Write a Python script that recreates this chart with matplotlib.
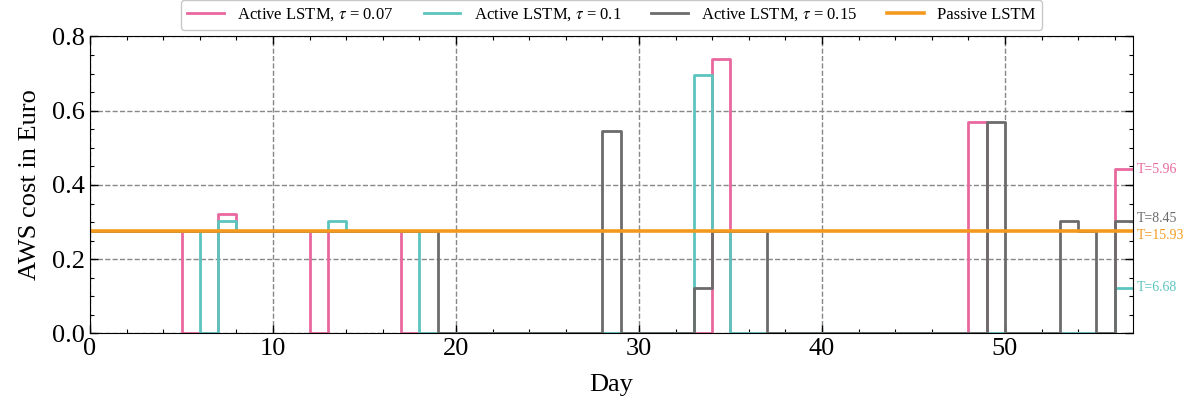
import numpy as np
import matplotlib.pyplot as plt
from matplotlib.ticker import MultipleLocator

# daily AWS cost (Euro) per day 0..56, last value repeated so the final step is drawn
days = np.arange(0, 58)

active_007 = [0.275, 0.275, 0.275, 0.275, 0.275, 0.0, 0.0, 0.322, 0.275, 0.275,
              0.275, 0.275, 0.0, 0.275, 0.275, 0.275, 0.275, 0.0, 0.0, 0.0,
              0.0, 0.0, 0.0, 0.0, 0.0, 0.0, 0.0, 0.0, 0.0, 0.0,
              0.0, 0.0, 0.0, 0.0, 0.74, 0.0, 0.0, 0.0, 0.0, 0.0,
              0.0, 0.0, 0.0, 0.0, 0.0, 0.0, 0.0, 0.0, 0.57, 0.0,
              0.0, 0.0, 0.0, 0.0, 0.0, 0.0, 0.442, 0.442]
active_01 = [0.275, 0.275, 0.275, 0.275, 0.275, 0.275, 0.0, 0.302, 0.275, 0.275,
             0.275, 0.275, 0.275, 0.302, 0.275, 0.275, 0.275, 0.275, 0.0, 0.0,
             0.0, 0.0, 0.0, 0.0, 0.0, 0.0, 0.0, 0.0, 0.0, 0.0,
             0.0, 0.0, 0.0, 0.697, 0.275, 0.0, 0.0, 0.0, 0.0, 0.0,
             0.0, 0.0, 0.0, 0.0, 0.0, 0.0, 0.0, 0.0, 0.0, 0.0,
             0.0, 0.0, 0.0, 0.0, 0.0, 0.0, 0.123, 0.123]
active_015 = [0.275, 0.275, 0.275, 0.275, 0.275, 0.275, 0.275, 0.275, 0.275, 0.275,
              0.275, 0.275, 0.275, 0.275, 0.275, 0.275, 0.275, 0.275, 0.275, 0.0,
              0.0, 0.0, 0.0, 0.0, 0.0, 0.0, 0.0, 0.0, 0.546, 0.0,
              0.0, 0.0, 0.0, 0.123, 0.275, 0.275, 0.275, 0.0, 0.0, 0.0,
              0.0, 0.0, 0.0, 0.0, 0.0, 0.0, 0.0, 0.0, 0.0, 0.57,
              0.0, 0.0, 0.0, 0.303, 0.275, 0.0, 0.303, 0.303]
passive = [0.275] * 58

labels = [r"Active LSTM, $\tau$ = 0.07", r"Active LSTM, $\tau$ = 0.1",
          r"Active LSTM, $\tau$ = 0.15", "Passive LSTM"]
totals = ["T=5.96", "T=6.68", "T=8.45", "T=15.93"]
colors = ["#E8689E", "#5CC4BE", "#6B6B6B", "#F39A1E"]

plt.rcParams['font.family'] = ['Liberation Serif', 'DejaVu Serif']
plt.rcParams['mathtext.fontset'] = 'stix'

fig = plt.figure(figsize=(12.02, 4.09), dpi=100)
ax = fig.add_axes([0.0749, 0.1846, 0.8677, 0.7262])

series = [active_007, active_01, active_015, passive]
for s, lab, c in zip(series, labels, colors):
    lw = 2.6 if lab == "Passive LSTM" else 2.0
    ax.step(days, s, where='post', color=c, lw=lw, label=lab)

# total cost labels at the right edge
label_y = [active_007[-1], active_01[-1], active_015[-1] + 0.006, passive[-1] - 0.01]
for t, y, c in zip(totals, label_y, colors):
    ax.text(57.2, y, t, color=c, fontsize=10, va='center', ha='left')

ax.set_xlim(0, 57)
ax.set_ylim(0, 0.8)
ax.xaxis.set_major_locator(MultipleLocator(10))
ax.xaxis.set_minor_locator(MultipleLocator(2))
ax.yaxis.set_major_locator(MultipleLocator(0.2))
ax.yaxis.set_minor_locator(MultipleLocator(0.05))
ax.tick_params(which='both', direction='in', top=True, right=True, labelsize=19)
ax.tick_params(which='major', length=6, width=1)
ax.tick_params(which='minor', length=3, width=0.8)
ax.grid(True, which='major', linestyle='--', color='#888888', lw=1)
ax.set_xlabel("Day", fontsize=19, labelpad=10)
ax.set_ylabel("AWS cost in Euro", fontsize=19, labelpad=8)

ax.legend(loc='lower center', bbox_to_anchor=(0.5, 0.995), ncol=4, fontsize=12,
          frameon=True, edgecolor='#bbbbbb', fancybox=True, handlelength=2.2,
          columnspacing=1.8, borderpad=0.4)

fig.savefig("out.png", dpi=100)
